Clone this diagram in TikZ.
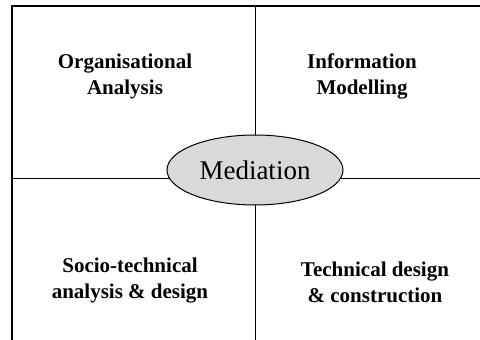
\documentclass[tikz,border=0pt]{standalone}
\usepackage{fontspec}
\setmainfont{Liberation Serif}
\usetikzlibrary{shapes.geometric}
\definecolor{medgray}{RGB}{217,217,217}
\begin{document}
\begin{tikzpicture}[x=1pt,y=-1pt,
  frame/.style={line width=2.6pt},
  divider/.style={line width=1pt},
  label/.style={font=\fontsize{21}{26}\selectfont\bfseries, align=center, inner sep=0pt},
  hub/.style={ellipse, draw, line width=1pt, fill=medgray, minimum width=176pt, minimum height=70pt, inner sep=0pt, font=\fontsize{27}{32}\selectfont}]
\useasboundingbox (0,0) rectangle (480,340);
\coordinate (tl) at (12,6);
\coordinate (tr) at (480,6);
\coordinate (bl) at (12,340);
\coordinate (vt) at (255,6);
\coordinate (vb) at (255,340);
\coordinate (hl) at (12,178);
\coordinate (hr) at (480,178);
\draw[divider] (vt) -- (vb);
\draw[divider] (hl) -- (hr);
\draw[frame] (bl) -- (tl) -- (tr);
\node[hub] (med) at (255,170) {Mediation};
\node[label] (oa) at (125,76) {Organisational\\Analysis};
\node[label] (im) at (362,76) {Information\\Modelling};
\node[label] (st) at (130,281) {Socio-technical\\analysis \& design};
\node[label] (td) at (375,282) {Technical design\\\& construction};
\end{tikzpicture}
\end{document}
